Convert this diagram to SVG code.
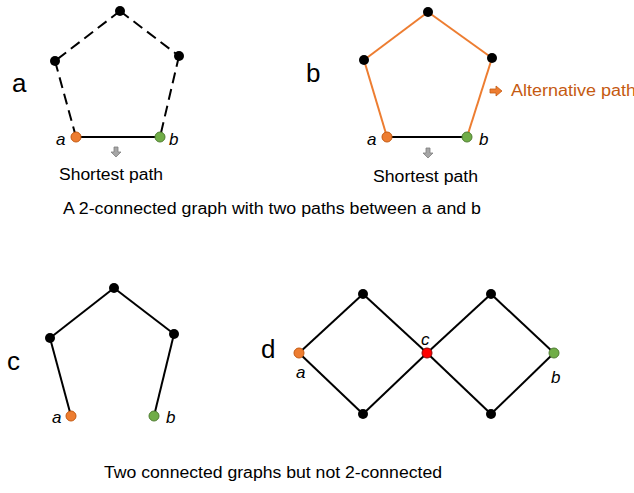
<svg xmlns="http://www.w3.org/2000/svg" width="634" height="493" viewBox="0 0 634 493">
<style>
text{font-family:"Liberation Sans",Arial,sans-serif;fill:#000}
.big{font-size:26px}
.lab{font-size:17px;font-style:italic}
.cap{font-size:16px}
.e{stroke:#000;stroke-width:2;fill:none}
.dash{stroke-dasharray:11 6}
.or{stroke:#ED7D31}
.k{fill:#000}
.oa{fill:#ED7D31;stroke:#C55A11;stroke-width:1}
.gb{fill:#70AD47;stroke:#507E32;stroke-width:1}
.rc{fill:#FF0000;stroke:#8B0000;stroke-width:1}
.garr{fill:#A6A6A6;stroke:#7F7F7F;stroke-width:0.8}
</style>
<rect width="634" height="493" fill="#fff"/>
<g id="connectors">
  <!-- graph a -->
  <line class="e dash" x1="120" y1="11" x2="55" y2="61"/>
  <line class="e dash" x1="120" y1="11" x2="179" y2="56"/>
  <line class="e dash" x1="55" y1="61" x2="76" y2="137"/>
  <line class="e dash" x1="179" y1="56" x2="160" y2="137"/>
  <line class="e" x1="76" y1="137" x2="160" y2="137"/>
  <!-- graph b -->
  <line class="e or" x1="428" y1="12" x2="364" y2="60"/>
  <line class="e or" x1="428" y1="12" x2="492" y2="58"/>
  <line class="e or" x1="364" y1="60" x2="387" y2="137"/>
  <line class="e or" x1="492" y1="58" x2="467" y2="137"/>
  <line class="e" x1="387" y1="137" x2="467" y2="137" stroke="#2a1205" stroke-width="2.5"/>
  <!-- graph c -->
  <line class="e" x1="114" y1="288" x2="50" y2="338"/>
  <line class="e" x1="114" y1="288" x2="174" y2="334"/>
  <line class="e" x1="50" y1="338" x2="71" y2="416"/>
  <line class="e" x1="174" y1="334" x2="154" y2="416"/>
  <!-- graph d -->
  <line class="e" x1="299" y1="353" x2="363" y2="294"/>
  <line class="e" x1="299" y1="353" x2="363" y2="414"/>
  <line class="e" x1="363" y1="294" x2="427" y2="353"/>
  <line class="e" x1="363" y1="414" x2="427" y2="353"/>
  <line class="e" x1="427" y1="353" x2="491" y2="294"/>
  <line class="e" x1="427" y1="353" x2="491" y2="414"/>
  <line class="e" x1="491" y1="294" x2="554" y2="353"/>
  <line class="e" x1="491" y1="414" x2="554" y2="353"/>
</g>
<g id="graph-a">
  <text class="big" x="12" y="92">a</text>
  <circle id="a-top" class="k" cx="120" cy="11" r="5"/>
  <circle id="a-left" class="k" cx="55" cy="61" r="5"/>
  <circle id="a-right" class="k" cx="179" cy="56" r="5"/>
  <circle id="a-a" class="oa" cx="76" cy="137" r="5"/>
  <circle id="a-b" class="gb" cx="160" cy="137" r="5"/>
  <text class="lab" x="56" y="145">a</text>
  <text class="lab" x="169" y="145">b</text>
  <polygon class="garr" points="114,147 118,147 118,152 121,152 116,157 111,152 114,152"/>
  <text class="cap" x="59" y="180" textLength="104" lengthAdjust="spacingAndGlyphs">Shortest path</text>
</g>
<g id="graph-b">
  <text class="big" x="306" y="82">b</text>
  <circle id="b-top" class="k" cx="428" cy="12" r="5"/>
  <circle id="b-left" class="k" cx="364" cy="60" r="5"/>
  <circle id="b-right" class="k" cx="492" cy="58" r="5"/>
  <circle id="b-a" class="oa" cx="387" cy="137" r="5"/>
  <circle id="b-b" class="gb" cx="467" cy="137" r="5"/>
  <text class="lab" x="367" y="145">a</text>
  <text class="lab" x="479" y="145">b</text>
  <polygon class="garr" points="426,148 430,148 430,153 433,153 428,158 423,153 426,153"/>
  <text class="cap" x="373" y="182" textLength="105" lengthAdjust="spacingAndGlyphs">Shortest path</text>
  <polygon points="490,89 496,89 496,86 502,91 496,96 496,93 490,93" fill="#ED7D31" stroke="#C55A11" stroke-width="0.8"/>
  <text class="cap" x="511" y="96" fill="#C55A11" style="fill:#C55A11" textLength="125" lengthAdjust="spacingAndGlyphs">Alternative path</text>
</g>
<text class="cap" x="63" y="214" textLength="418" lengthAdjust="spacingAndGlyphs">A 2-connected graph with two paths between a and b</text>
<g id="graph-c">
  <text class="big" x="7" y="370">c</text>
  <circle id="c-top" class="k" cx="114" cy="288" r="5"/>
  <circle id="c-left" class="k" cx="50" cy="338" r="5"/>
  <circle id="c-right" class="k" cx="174" cy="334" r="5"/>
  <circle id="c-a" class="oa" cx="71" cy="416" r="5"/>
  <circle id="c-b" class="gb" cx="154" cy="416" r="5"/>
  <text class="lab" x="52" y="423">a</text>
  <text class="lab" x="166" y="423">b</text>
</g>
<g id="graph-d">
  <text class="big" x="261" y="358">d</text>
  <circle id="d-top1" class="k" cx="363" cy="294" r="5"/>
  <circle id="d-top2" class="k" cx="491" cy="294" r="5"/>
  <circle id="d-bot1" class="k" cx="363" cy="414" r="5"/>
  <circle id="d-bot2" class="k" cx="491" cy="414" r="5"/>
  <circle id="d-a" class="oa" cx="299" cy="353" r="5"/>
  <circle id="d-c" class="rc" cx="427" cy="353" r="5"/>
  <circle id="d-b" class="gb" cx="554" cy="353" r="5"/>
  <text class="lab" x="296" y="378">a</text>
  <text class="lab" x="421" y="345">c</text>
  <text class="lab" x="551" y="383">b</text>
</g>
<text class="cap" x="104" y="478" textLength="338" lengthAdjust="spacingAndGlyphs">Two connected graphs but not 2-connected</text>
</svg>
